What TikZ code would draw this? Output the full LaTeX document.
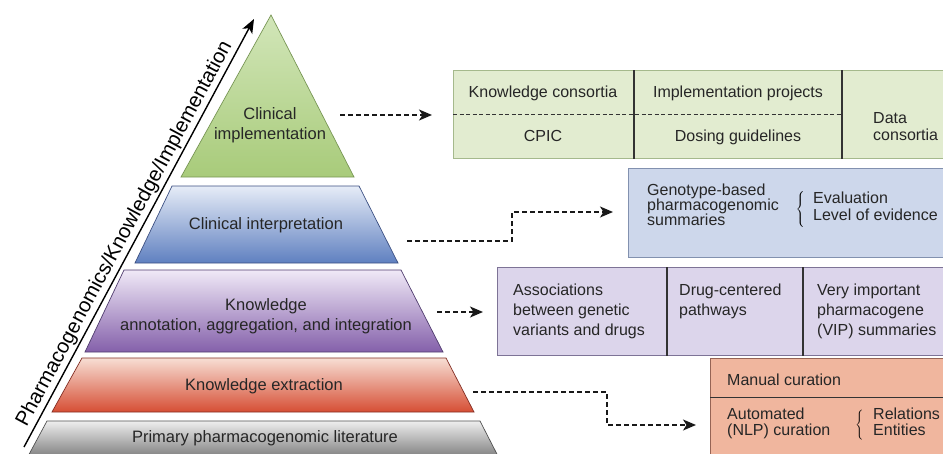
\documentclass[tikz,border=0pt]{standalone}
\usepackage{fontspec}
\setmainfont{Liberation Sans}
\usepackage{xcolor}
\definecolor{ImplGreenTop}{RGB}{210,230,185}
\definecolor{ImplGreenBot}{RGB}{168,203,122}
\definecolor{ImplGreenLine}{RGB}{120,150,85}
\definecolor{InterpBlueTop}{RGB}{230,236,247}
\definecolor{InterpBlueBot}{RGB}{95,128,192}
\definecolor{InterpBlueLine}{RGB}{60,80,130}
\definecolor{AnnotPurpleTop}{RGB}{240,233,247}
\definecolor{AnnotPurpleBot}{RGB}{132,96,170}
\definecolor{AnnotPurpleLine}{RGB}{80,60,110}
\definecolor{ExtrRedTop}{RGB}{247,222,212}
\definecolor{ExtrRedBot}{RGB}{214,78,52}
\definecolor{ExtrRedLine}{RGB}{130,45,35}
\definecolor{LitGrayTop}{RGB}{238,238,238}
\definecolor{LitGrayBot}{RGB}{118,118,118}
\definecolor{LitGrayLine}{RGB}{80,80,80}
\definecolor{ImplBoxFill}{RGB}{226,236,208}
\definecolor{ImplBoxLine}{RGB}{165,185,140}
\definecolor{InterpBoxFill}{RGB}{205,215,235}
\definecolor{InterpBoxLine}{RGB}{130,145,175}
\definecolor{AnnotBoxFill}{RGB}{220,213,235}
\definecolor{AnnotBoxLine}{RGB}{125,115,150}
\definecolor{ExtrBoxFill}{RGB}{240,182,158}
\definecolor{ExtrBoxLine}{RGB}{150,100,85}
\usetikzlibrary{
    arrows.meta,
    positioning,
    calc
}

\begin{document}
\begin{tikzpicture}[
    x=1pt,
    y=-1pt,
%
    tier/.style={
        draw=#1Line,
        line width=0.7pt,
        top color=#1Top,
        bottom color=#1Bot
    },
%
    tiertext/.style={
        font=\fontsize{16.5}{20}\selectfont,
        text=black!85,
        align=center,
        inner sep=0pt
    },
%
    cellbox/.style={
        draw=#1Line,
        fill=#1Fill,
        line width=0.8pt,
        anchor=north west,
        inner sep=0pt
    },
%
    celltext/.style={
        font=\fontsize{16}{17}\selectfont,
        text=black!85,
        inner sep=0pt
    },
%
    cellrule/.style={
        line width=1.3pt,
        color=black!80
    },
%
    flow/.style={
        -{Stealth[length=13pt,width=11pt,inset=3.5pt]},
        line width=1.6pt,
        dash pattern=on 5pt off 3pt,
        color=black!90
    },
%
    growth/.style={
        -{Stealth[length=14pt,width=11pt,inset=3.5pt]},
        line width=1.4pt,
        color=black
    }
]
\useasboundingbox (0,0) rectangle (943,453);
\clip (0,0) rectangle (943,453);
%
% Pyramid: one tier per level, from the apex down.
%
\draw[tier=ImplGreen] (271,15) -- (354,177) -- (181,177) -- cycle;
\draw[tier=InterpBlue] (172,186) -- (359,186) -- (398,263) -- (135,263) -- cycle;
\draw[tier=AnnotPurple] (124,270) -- (401,270) -- (443,352) -- (85,352) -- cycle;
\draw[tier=ExtrRed] (82,358) -- (446,358) -- (474,412) -- (52,412) -- cycle;
\draw[tier=LitGray] (47,421) -- (480,421) -- (500,460) -- (26,460) -- cycle;
\node[tiertext] (climpl) at (270,125) {Clinical\\implementation};
\node[tiertext] (clinterp) at (266,225) {Clinical interpretation};
\node[tiertext] (knowann) at (266,316) {Knowledge\\annotation, aggregation, and integration};
\node[tiertext] (knowext) at (264,386) {Knowledge extraction};
\node[tiertext] (primlit) at (265,438) {Primary pharmacogenomic literature};
%
% Axis along the left flank.
%
\coordinate (axisfrom) at (24,447);
\coordinate (axisto) at (254,19);
\draw[growth] (axisfrom) -- node[
    sloped,
    above=2pt,
    pos=0.485,
    inner sep=0pt,
    font=\fontsize{20.5}{20.5}\selectfont
] (axislabel) {Pharmacogenomics/Knowledge/Implementation} (axisto);
%
% Clinical implementation resources.
%
\node[cellbox=ImplBox, minimum width=520pt, minimum height=88pt] (implbox) at (453,70) {};
\draw[cellrule] ([xshift=181pt]implbox.north west) -- ([xshift=181pt]implbox.south west);
\draw[cellrule] ([xshift=389pt]implbox.north west) -- ([xshift=389pt]implbox.south west);
\draw[cellrule, dash pattern=on 4pt off 2.5pt] (implbox.west) -- ([xshift=389pt]implbox.west);
\node[celltext] (knowcons) at (543,93) {Knowledge consortia};
\node[celltext] (cpic) at (543,136) {CPIC};
\node[celltext] (implproj) at (738,93) {Implementation projects};
\node[celltext] (dosing) at (738,137) {Dosing guidelines};
\node[celltext, align=left, anchor=west] (datacons) at (873,127) {Data\\consortia};
%
% Clinical interpretation resources.
%
\node[cellbox=InterpBox, minimum width=340pt, minimum height=89pt] (interpbox) at (628,168) {};
\node[
    celltext,
    align=left,
    anchor=north west,
    font=\fontsize{16}{15}\selectfont
] (genosum) at (647,184) {Genotype-based\\pharmacogenomic\\summaries};
\node[inner sep=0pt] (evalbrace) at (801,209) {$\left\{\vcenter{\hbox{\rule{0pt}{34pt}}}\right.$};
\node[celltext, align=left, anchor=north west] (evallevel) at (813,192) {Evaluation\\Level of evidence};
%
% Annotation resources.
%
\node[cellbox=AnnotBox, minimum width=470pt, minimum height=88pt] (annotbox) at (497,267) {};
\draw[cellrule] ([xshift=170pt]annotbox.north west) -- ([xshift=170pt]annotbox.south west);
\draw[cellrule] ([xshift=306pt]annotbox.north west) -- ([xshift=306pt]annotbox.south west);
\node[
    celltext,
    align=left,
    anchor=north west,
    font=\fontsize{16}{20}\selectfont
] (assoc) at (513,284) {Associations\\between genetic\\variants and drugs};
\node[
    celltext,
    align=left,
    anchor=north west,
    font=\fontsize{16}{20}\selectfont
] (drugpath) at (679,284) {Drug-centered\\pathways};
\node[
    celltext,
    align=left,
    anchor=north west,
    font=\fontsize{16}{20}\selectfont
] (vipsum) at (817,284) {Very important\\pharmacogene\\(VIP) summaries};
%
% Extraction resources.
%
\node[cellbox=ExtrBox, minimum width=260pt, minimum height=110pt] (extrbox) at (710,358) {};
\draw[cellrule, line width=1pt] ([yshift=-39pt]extrbox.north west) -- ([yshift=-39pt]extrbox.north east);
\node[celltext, anchor=west] (manual) at (727,380) {Manual curation};
\node[
    celltext,
    align=left,
    anchor=north west,
    font=\fontsize{16}{16}\selectfont
] (automated) at (727,408) {Automated\\(NLP) curation};
\node[inner sep=0pt] (nlpbrace) at (860,425) {$\left\{\vcenter{\hbox{\rule{0pt}{30pt}}}\right.$};
\node[
    celltext,
    align=left,
    anchor=north west,
    font=\fontsize{16}{16}\selectfont
] (relent) at (873,408) {Relations\\Entities};
%
% Dashed links from each tier to its resources.
%
\coordinate (implout) at (340,115);
\coordinate (implin) at (432,115);
\draw[flow] (implout) -- (implin);
\coordinate (interpout) at (407,241);
\coordinate (interpin) at (613,212);
\draw[flow] (interpout) -- ++(105,0) |- (interpin);
\coordinate (annotout) at (437,312);
\coordinate (annotin) at (483,312);
\draw[flow] (annotout) -- (annotin);
\coordinate (extrout) at (473,392);
\coordinate (extrin) at (696,425);
\draw[flow] (extrout) -- ++(134,0) |- (extrin);
%
\end{tikzpicture}
\end{document}
